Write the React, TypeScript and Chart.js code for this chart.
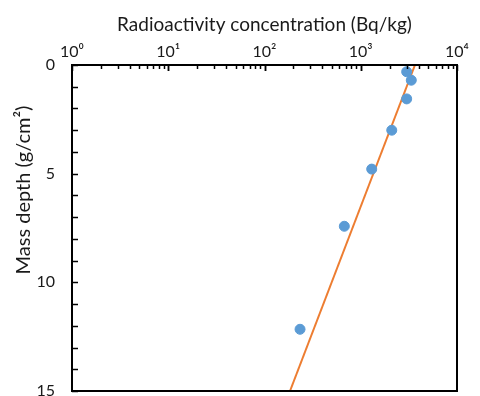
import React, { useEffect, useRef } from "react";
import { Chart, registerables } from "chart.js";

Chart.register(...registerables);

const concentration = [3000, 3350, 3000, 2100, 1300, 675, 234];
const depth = [0.31, 0.7, 1.56, 3.0, 4.79, 7.42, 12.16];
const fitDepth = [0, 15];
const fitConcentration = [3660, 184];
const xTickLabels: Record<number, string> = { 1: "10⁰", 10: "10¹", 100: "10²", 1000: "10³", 10000: "10⁴" };
const yLabelValues = [0, 5, 10, 15];

const FONT = "Lato, 'Open Sans', sans-serif";

const framePlugin = {
  id: "frame",
  afterDraw(chart: any) {
    const { ctx, chartArea: a, scales } = chart;
    ctx.save();
    ctx.strokeStyle = "#000";
    ctx.lineWidth = 2;
    ctx.strokeRect(a.left, a.top, a.right - a.left, a.bottom - a.top);
    ctx.lineWidth = 1.5;
    const xs = scales.x;
    for (let d = 0; d < 4; d++) {
      for (let m = 1; m <= 10; m++) {
        const v = m * Math.pow(10, d);
        const px = Math.round(xs.getPixelForValue(v)) + 0.5;
        const len = m === 1 || m === 10 ? 6 : 4;
        ctx.beginPath();
        ctx.moveTo(px, a.top);
        ctx.lineTo(px, a.top + len);
        ctx.stroke();
      }
    }
    const ys = scales.y;
    for (let v = 0; v <= 15; v++) {
      const py = Math.round(ys.getPixelForValue(v)) + 0.5;
      ctx.beginPath();
      ctx.moveTo(a.left, py);
      ctx.lineTo(a.left + 6, py);
      ctx.stroke();
    }
    ctx.fillStyle = "#1a1a1a";
    ctx.font = `20px ${FONT}`;
    ctx.textAlign = "center";
    ctx.textBaseline = "middle";
    ctx.translate(24, 190);
    ctx.rotate(-Math.PI / 2);
    ctx.fillText("Mass depth (g/cm²)", 0, 0);
    ctx.restore();
  },
};

export default function App() {
  const ref = useRef<HTMLCanvasElement | null>(null);
  useEffect(() => {
    if (!ref.current) return;
    const chart = new Chart(ref.current, {
      type: "scatter",
      data: {
        datasets: [
          {
            label: "Measured",
            data: concentration.map((c, i) => ({ x: c, y: depth[i] })),
            backgroundColor: "#5B9BD5",
            borderColor: "#5B9BD5",
            pointRadius: 5,
            order: 1,
          },
          {
            label: "Fit",
            data: fitConcentration.map((c, i) => ({ x: c, y: fitDepth[i] })),
            showLine: true,
            borderColor: "#ED7D31",
            borderWidth: 2,
            pointRadius: 0,
            order: 2,
          },
        ],
      },
      options: {
        animation: false,
        responsive: false,
        layout: { padding: { left: 0, right: 23, top: 0, bottom: 29 } },
        plugins: { legend: { display: false }, tooltip: { enabled: false } },
        scales: {
          x: {
            type: "logarithmic",
            position: "top",
            min: 1,
            max: 10000,
            grid: { display: false, drawTicks: false },
            border: { display: false },
            afterFit: (s: any) => { s.height = 65; },
            afterBuildTicks: (s: any) => {
              s.ticks = Object.keys(xTickLabels).map((k) => ({ value: Number(k), major: true }));
            },
            ticks: {
              autoSkip: false,
              maxRotation: 0,
              padding: 4,
              color: "#1a1a1a",
              font: { family: FONT, size: 16 },
              callback: (v: any) => xTickLabels[Number(v)] ?? "",
            },
            title: {
              display: true,
              text: "Radioactivity concentration (Bq/kg)",
              color: "#1a1a1a",
              font: { family: FONT, size: 19 },
              padding: { top: 13, bottom: 2 },
            },
          },
          y: {
            type: "linear",
            reverse: true,
            min: 0,
            max: 15,
            grid: { display: false, drawTicks: false },
            border: { display: false },
            afterFit: (s: any) => { s.width = 72; },
            afterBuildTicks: (s: any) => {
              s.ticks = yLabelValues.map((v) => ({ value: v }));
            },
            ticks: {
              autoSkip: false,
              padding: 17,
              color: "#1a1a1a",
              font: { family: FONT, size: 16 },
            },
          },
        },
      },
      plugins: [framePlugin],
    } as any);
    return () => chart.destroy();
  }, []);
  return (
    <div style={{ position: "absolute", left: 0, top: 0, width: 480, height: 420, background: "#fff" }}>
      <canvas ref={ref} width={480} height={420} style={{ display: "block" }} />
    </div>
  );
}
